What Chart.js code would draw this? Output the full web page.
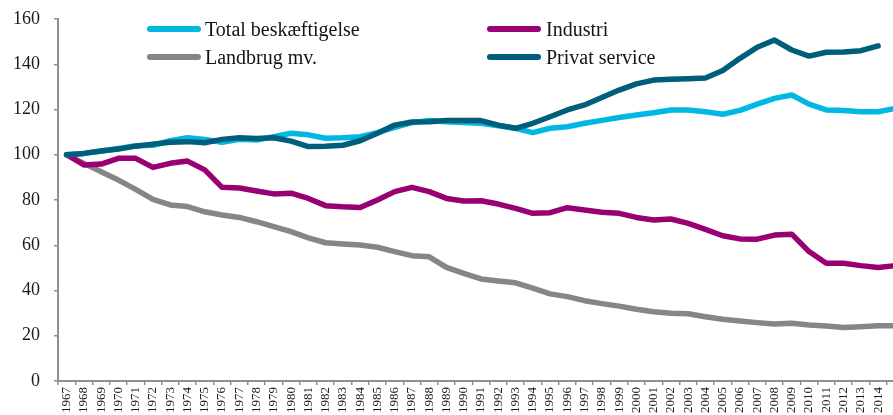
<!DOCTYPE html>
<html>
<head>
<meta charset="utf-8">
<script src="https://cdn.jsdelivr.net/npm/chart.js@4/dist/chart.umd.min.js"></script>
<style>
  html, body { margin: 0; padding: 0; overflow: hidden; background: #fff; }
  canvas { display: block; }
</style>
</head>
<body>
<canvas id="c" width="914" height="415"></canvas>
<script>
// ---- Data ----
const years = ['1967','1968','1969','1970','1971','1972','1973','1974','1975','1976',
  '1977','1978','1979','1980','1981','1982','1983','1984','1985','1986',
  '1987','1988','1989','1990','1991','1992','1993','1994','1995','1996',
  '1997','1998','1999','2000','2001','2002','2003','2004','2005','2006',
  '2007','2008','2009','2010','2011','2012','2013','2014','2015'];

const seriesNames = ['Total beskæftigelse', 'Industri', 'Landbrug mv.', 'Privat service'];

const totalValues = [100, 100.6, 101.7, 102.8, 104.0, 104.2, 106.2, 107.5, 106.8, 105.5,
  106.8, 106.5, 108.0, 109.5, 108.8, 107.3, 107.5, 108.0, 109.8, 112.1,
  114.2, 115.1, 114.6, 114.2, 113.9, 112.8, 111.7, 109.8, 111.7, 112.4,
  113.9, 115.2, 116.5, 117.6, 118.6, 119.8, 119.8, 119.0, 117.9, 119.6,
  122.4, 124.9, 126.4, 122.4, 119.8, 119.6, 119.0, 119.0, 120.5];

const industriValues = [100, 95.5, 95.9, 98.4, 98.4, 94.4, 96.2, 97.2, 93.3, 85.6,
  85.3, 84.0, 82.7, 83.0, 80.7, 77.5, 77.0, 76.7, 80.0, 83.7,
  85.6, 83.7, 80.7, 79.6, 79.7, 78.2, 76.3, 74.1, 74.4, 76.6,
  75.6, 74.6, 74.1, 72.3, 71.2, 71.6, 69.7, 67.0, 64.2, 62.8,
  62.7, 64.5, 64.9, 57.2, 52.0, 52.0, 51.0, 50.2, 51.0];

const landbrugValues = [100, 96.2, 92.5, 88.8, 84.7, 80.3, 77.8, 77.1, 74.8, 73.4,
  72.3, 70.4, 68.2, 66.0, 63.3, 61.1, 60.6, 60.1, 59.1, 57.2,
  55.4, 54.9, 50.2, 47.6, 45.1, 44.2, 43.4, 41.0, 38.5, 37.3,
  35.5, 34.2, 33.1, 31.7, 30.6, 29.9, 29.7, 28.4, 27.3, 26.5,
  25.8, 25.2, 25.5, 24.8, 24.3, 23.6, 24.0, 24.4, 24.4];

const privatValues = [100, 100.6, 101.7, 102.5, 103.8, 104.7, 105.5, 105.8, 105.3, 106.8,
  107.5, 107.2, 107.5, 106.0, 103.6, 103.8, 104.2, 106.2, 109.5, 113.1,
  114.5, 114.6, 115.1, 115.1, 115.1, 113.1, 111.7, 113.9, 116.8, 119.8,
  122.0, 125.3, 128.6, 131.3, 133.0, 133.4, 133.6, 133.9, 137.2, 142.6,
  147.5, 150.7, 146.3, 143.6, 145.3, 145.4, 146.0, 148.1, null];

const yTicks = [0, 20, 40, 60, 80, 100, 120, 140, 160];

// ---- Styles ----
const colors = ['#00B8E2', '#990073', '#868686', '#005E7B'];
const serif = '"Liberation Serif", "Times New Roman", serif';
const axisColor = '#8f8f8f';

// legend placement (layout only)
const legendLayout = [
  { x1: 150, x2: 198, y: 29, tx: 205 },
  { x1: 490, x2: 538, y: 29, tx: 546 },
  { x1: 150, x2: 198, y: 57, tx: 205 },
  { x1: 490, x2: 538, y: 57, tx: 546 }
];

const legendPlugin = {
  id: 'customLegend',
  afterDraw(chart) {
    const ctx = chart.ctx;
    ctx.save();
    chart.data.datasets.forEach((ds, i) => {
      const L = legendLayout[i];
      ctx.strokeStyle = ds.borderColor;
      ctx.lineWidth = 6;
      ctx.lineCap = 'round';
      ctx.beginPath();
      ctx.moveTo(L.x1, L.y);
      ctx.lineTo(L.x2, L.y);
      ctx.stroke();
      ctx.fillStyle = '#141414';
      ctx.font = '20px ' + serif;
      ctx.textBaseline = 'alphabetic';
      ctx.textAlign = 'left';
      ctx.fillText(ds.label, L.tx, L.y + 6.8);
    });
    ctx.restore();
  }
};

const valueSets = [totalValues, industriValues, landbrugValues, privatValues];
const drawOrder = [2, 3, 4, 1];

new Chart(document.getElementById('c'), {
  type: 'line',
  data: {
    labels: years,
    datasets: seriesNames.map((name, i) => ({
      label: name,
      data: valueSets[i],
      borderColor: colors[i],
      backgroundColor: colors[i],
      borderWidth: 5.5,
      pointRadius: 0,
      tension: 0,
      fill: false,
      spanGaps: false,
      borderJoinStyle: 'round',
      borderCapStyle: 'round',
      order: drawOrder[i]
    }))
  },
  options: {
    responsive: false,
    animation: false,
    devicePixelRatio: 1,
    layout: { padding: { top: 19, right: 10, left: 0, bottom: 0 } },
    plugins: {
      legend: { display: false },
      tooltip: { enabled: false }
    },
    scales: {
      x: {
        type: 'category',
        offset: true,
        grid: {
          display: true,
          drawOnChartArea: false,
          drawTicks: true,
          tickLength: 4,
          color: axisColor,
          lineWidth: 1.5,
          offset: true
        },
        border: { display: true, color: axisColor, width: 2 },
        ticks: {
          autoSkip: false,
          maxRotation: 90,
          minRotation: 90,
          padding: 2,
          color: '#1a1a1a',
          font: { family: serif, size: 13 },
          callback: function (val, idx) {
            return idx === years.length - 1 ? '' : this.getLabelForValue(val);
          }
        },
        afterFit: (s) => { s.height = 34; s.paddingLeft = 0; s.paddingRight = 0; }
      },
      y: {
        min: yTicks[0],
        max: yTicks[yTicks.length - 1],
        afterBuildTicks: (s) => { s.ticks = yTicks.map(v => ({ value: v })); },
        grid: {
          display: true,
          drawOnChartArea: false,
          drawTicks: true,
          tickLength: 4,
          color: axisColor,
          lineWidth: 1.5
        },
        border: { display: true, color: axisColor, width: 2 },
        ticks: {
          padding: 14,
          color: '#1a1a1a',
          font: { family: serif, size: 18 }
        },
        afterFit: (s) => { s.width = 58; s.paddingTop = 0; s.paddingBottom = 0; }
      }
    }
  },
  plugins: [legendPlugin]
});
</script>
</body>
</html>
